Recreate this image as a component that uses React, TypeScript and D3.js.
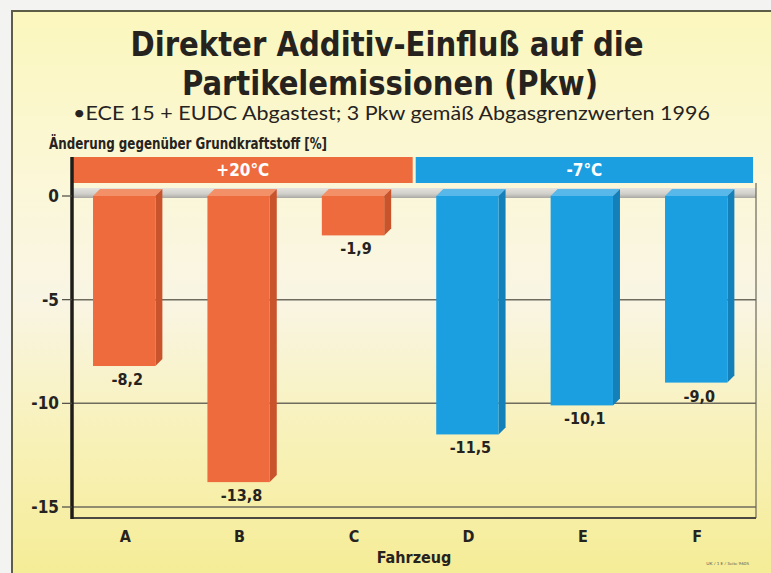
import React from 'react';
import * as d3 from 'd3';

// ─── Data ────────────────────────────────────────────────
const vehicles = ['A', 'B', 'C', 'D', 'E', 'F'];
const changes = [-8.2, -13.8, -1.9, -11.5, -10.1, -9.0];
const groupOf = [0, 0, 0, 1, 1, 1];
const groupLabels = ['+20°C', '-7°C'];
const yTicks = [0, -5, -10, -15];

const W = 771;
const H = 573;

const COND = "'Liberation Sans Narrow','DejaVu Sans Condensed',sans-serif";
const PLAIN = "'Lato','Noto Sans','DejaVu Sans',sans-serif";

const palette = [
  { front: '#ee6b3d', side: '#c9532b', top: '#f49067' },
  { front: '#1c9fe0', side: '#1480ba', top: '#58b8ea' },
];

const de = d3.formatLocale({ decimal: ',', thousands: '.', grouping: [3], currency: ['', ' €'] });
const fmt = de.format('.1f');

export default function App() {
  const plotLeft = 72;
  const plotRight = 756;
  const plotBottom = 518;
  const bandTop = 157;
  const bandBottom = 183;

  const x = d3
    .scaleBand<string>()
    .domain(vehicles)
    .range([67, 753.4])
    .paddingInner(0.455)
    .paddingOuter(0.2275);

  const y = d3.scaleLinear().domain([0, -15]).range([196, 507]);

  const bw = x.bandwidth();
  const depth = 7;

  // boundary between the two temperature groups
  const lastWarm = vehicles[groupOf.lastIndexOf(0)];
  const firstCold = vehicles[groupOf.indexOf(1)];
  const mid = ((x(lastWarm) ?? 0) + bw + depth + (x(firstCold) ?? 0)) / 2;
  const groupBands = [
    { x0: plotLeft + 1, x1: mid - 1 },
    { x0: mid + 2, x1: plotRight - 3 },
  ];

  return (
    <svg
      width={W}
      height={H}
      style={{ position: 'absolute', left: 0, top: 0 }}
      xmlns="http://www.w3.org/2000/svg"
    >
      <defs>
        <linearGradient id="bg" x1="0" y1="0" x2="0" y2="1">
          <stop offset="0%" stopColor="#fbf7bd" />
          <stop offset="30%" stopColor="#fbf7d8" />
          <stop offset="50%" stopColor="#f9f5e4" />
          <stop offset="75%" stopColor="#f8f1b8" />
          <stop offset="100%" stopColor="#f5ec94" />
        </linearGradient>
        <linearGradient id="floor" x1="0" y1="0" x2="0" y2="1">
          <stop offset="0%" stopColor="#e4e3de" />
          <stop offset="60%" stopColor="#cfcec8" />
          <stop offset="100%" stopColor="#a9a8a2" />
        </linearGradient>
      </defs>

      {/* page + frame */}
      <rect x={0} y={0} width={W} height={H} fill="#f3f3f1" />
      <rect x={12} y={11} width={W} height={H} fill="url(#bg)" stroke="#5e5d48" strokeWidth={2} />

      {/* titles */}
      <text x={387} y={56} textAnchor="middle" fontFamily={COND} fontStretch="condensed" fontWeight="bold" fontSize={34} fill="#26231f" textLength={513} lengthAdjust="spacingAndGlyphs">
        Direkter Additiv-Einfluß auf die
      </text>
      <text x={390} y={95} textAnchor="middle" fontFamily={COND} fontStretch="condensed" fontWeight="bold" fontSize={34} fill="#26231f" textLength={416} lengthAdjust="spacingAndGlyphs">
        Partikelemissionen (Pkw)
      </text>
      <text x={73} y={120} fontFamily={PLAIN} fontSize={19} fill="#26231f" textLength={637} lengthAdjust="spacingAndGlyphs">
        •ECE 15 + EUDC Abgastest; 3 Pkw gemäß Abgasgrenzwerten 1996
      </text>
      <text x={49} y={149} fontFamily={COND} fontStretch="condensed" fontWeight="bold" fontSize={15} fill="#26231f" textLength={278} lengthAdjust="spacingAndGlyphs">
        Änderung gegenüber Grundkraftstoff [%]
      </text>

      {/* temperature header bands */}
      {groupBands.map((b, i) => (
        <g key={groupLabels[i]}>
          <rect x={b.x0} y={bandTop} width={b.x1 - b.x0} height={bandBottom - bandTop} fill={palette[i].front} />
          <text x={(b.x0 + b.x1) / 2} y={176} textAnchor="middle" fontFamily={COND} fontStretch="condensed" fontWeight="bold" fontSize={17} fill="#ffffff">
            {groupLabels[i]}
          </text>
        </g>
      ))}

      {/* grid lines */}
      {yTicks.filter((t) => t !== 0).map((t) => (
        <line key={t} x1={plotLeft} x2={plotRight} y1={y(t)} y2={y(t)} stroke="#6f6b5e" strokeWidth={1.5} />
      ))}

      {/* zero floor */}
      <rect x={plotLeft} y={y(0) - 8} width={plotRight - plotLeft} height={10} fill="url(#floor)" />

      {/* plot border */}
      <line x1={plotRight} x2={plotRight} y1={bandBottom} y2={plotBottom} stroke="#6a675a" strokeWidth={1.2} />
      <line x1={plotLeft} x2={plotRight} y1={plotBottom} y2={plotBottom} stroke="#4a4840" strokeWidth={1.8} />
      <line x1={plotLeft} x2={plotLeft} y1={bandTop} y2={plotBottom + 1} stroke="#1f1d1a" strokeWidth={3.5} />

      {/* y ticks */}
      {yTicks.map((t) => (
        <g key={t}>
          <line x1={62} x2={plotLeft} y1={y(t)} y2={y(t)} stroke="#4a4840" strokeWidth={1.2} />
          <text x={59} y={y(t) + 6} textAnchor="end" fontFamily={COND} fontStretch="condensed" fontWeight="bold" fontSize={17} fill="#26231f">
            {t === 0 ? '0' : String(t)}
          </text>
        </g>
      ))}

      {/* 3D bars */}
      {vehicles.map((v, i) => {
        const x0 = x(v) ?? 0;
        const x1 = x0 + bw;
        const y0 = y(0);
        const y1 = y(changes[i]);
        const c = palette[groupOf[i]];
        const topFace = `M${x0},${y0} L${x1},${y0} L${x1 + depth},${y0 - depth} L${x0 + depth},${y0 - depth} Z`;
        const sideFace = `M${x1},${y0} L${x1 + depth},${y0 - depth} L${x1 + depth},${y1 - depth} L${x1},${y1} Z`;
        return (
          <g key={v}>
            <path d={topFace} fill={c.top} />
            <path d={sideFace} fill={c.side} />
            <rect x={x0} y={y0} width={bw} height={y1 - y0} fill={c.front} />
            <text x={x0 + bw / 2 + 3} y={y1 + 19} textAnchor="middle" fontFamily={COND} fontStretch="condensed" fontWeight="bold" fontSize={16} fill="#26231f">
              {fmt(changes[i]).replace('−', '-')}
            </text>
          </g>
        );
      })}

      {/* x axis labels */}
      {vehicles.map((v) => (
        <text key={v} x={(x(v) ?? 0) + bw / 2 + 1} y={542} textAnchor="middle" fontFamily={COND} fontStretch="condensed" fontWeight="bold" fontSize={16} fill="#26231f">
          {v}
        </text>
      ))}
      <text x={414} y={563} textAnchor="middle" fontFamily={COND} fontStretch="condensed" fontWeight="bold" fontSize={16} fill="#26231f">
        Fahrzeug
      </text>

      <text x={749} y={565} textAnchor="end" fontFamily={PLAIN} fontSize={4.5} fill="#5e5d55">
        UK / 1 E / Seite 9605
      </text>
    </svg>
  );
}
